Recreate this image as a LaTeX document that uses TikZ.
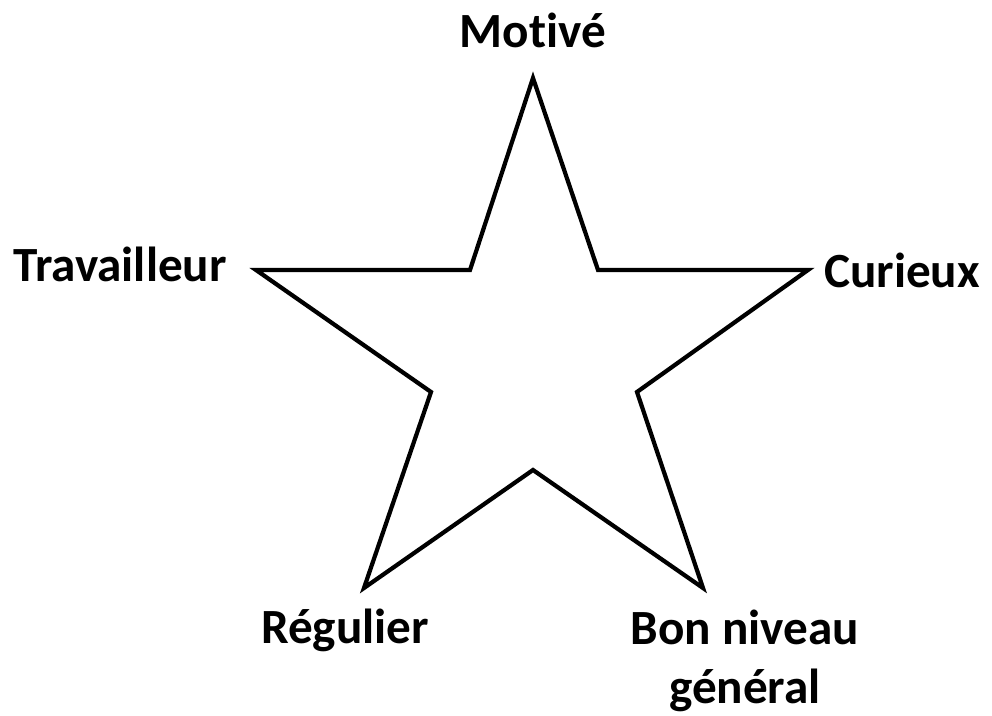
\documentclass[tikz,border=0pt]{standalone}
\usepackage{fontspec}
\setmainfont{Carlito}[Ligatures=NoCommon]
\usepackage{tikz}
\usetikzlibrary{calc,positioning}
\definecolor{starblack}{HTML}{000000}

\begin{document}
\begin{tikzpicture}[x=0.02cm,y=-0.02cm,
  starline/.style={draw=starblack,line width=2.4pt,line join=miter},
  starlabel/.style={font=\fontsize{28}{33.5}\selectfont\bfseries,align=center,inner sep=0pt}]
  \useasboundingbox (0,0) rectangle (992,716);
  % outer and inner points of the star
  \coordinate (top) at (533,78);
  \coordinate (tr) at (598,270);
  \coordinate (right) at (808,270);
  \coordinate (rr) at (637,392);
  \coordinate (bright) at (703,588);
  \coordinate (bot) at (533,470);
  \coordinate (bleft) at (364,588);
  \coordinate (ll) at (431,392);
  \coordinate (left) at (256,270);
  \coordinate (tl) at (470,270);
  \draw[starline] (top) -- (tr) -- (right) -- (rr) -- (bright) -- (bot)
    -- (bleft) -- (ll) -- (left) -- (tl) -- cycle;
  % labels
  \node[starlabel] (motive) at (533,30) {Mot\kern0pt ivé};
  \node[starlabel] (travailleur) at (120,264) {Travailleur};
  \node[starlabel] (curieux) at (902,270) {Curieux};
  \node[starlabel] (regulier) at (345,630) {Régulier};
  \node[starlabel] (niveau) at (745,661) {Bon niveau\\général};
\end{tikzpicture}
\end{document}
